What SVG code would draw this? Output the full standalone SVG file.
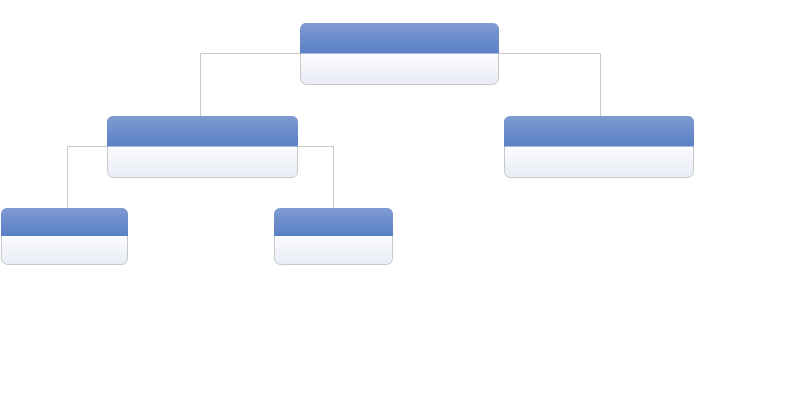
<svg xmlns="http://www.w3.org/2000/svg" width="800" height="400" viewBox="0 0 800 400">
<defs>
<linearGradient id="hd" x1="0" y1="0" x2="0" y2="1"><stop offset="0" stop-color="#7f9bd2"/><stop offset="1" stop-color="#5a7fc5"/></linearGradient>
<linearGradient id="bd" x1="0" y1="0" x2="0" y2="1"><stop offset="0.5" stop-color="#fafbfd"/><stop offset="1" stop-color="#e8ecf5"/></linearGradient>
<style>
.body{fill:url(#bd);stroke:#c8c8c8;stroke-width:1}
.head{fill:url(#hd)}
.con{fill:none;stroke:#c8c8c8;stroke-width:1}
</style>
</defs>
<g id="connectors">
<path class="con" d="M300.5 53.5H200.5V116"/>
<path class="con" d="M498.5 53.5H600.5V116"/>
<path class="con" d="M107.5 146.5H67.5V208"/>
<path class="con" d="M297.5 146.5H333.5V208"/>
</g>
<g id="n-root">
<rect class="body" x="300.5" y="23.5" width="198" height="61" rx="6"/>
<path class="head" d="M300 53.5V29.5a6 6 0 0 1 6-6.5H493a6 6 0 0 1 6 6.5V53.5Z"/>
</g>
<g id="n-left">
<rect class="body" x="107.5" y="116.5" width="190" height="61" rx="6"/>
<path class="head" d="M107 146.5V122.5a6 6 0 0 1 6-6.5H292a6 6 0 0 1 6 6.5V146.5Z"/>
</g>
<g id="n-right">
<rect class="body" x="504.5" y="116.5" width="189" height="61" rx="6"/>
<path class="head" d="M504 146.5V122.5a6 6 0 0 1 6-6.5H688a6 6 0 0 1 6 6.5V146.5Z"/>
</g>
<g id="n-ll">
<rect class="body" x="1.5" y="208.5" width="126" height="56" rx="6"/>
<path class="head" d="M1 236V214.5a6 6 0 0 1 6-6.5H122a6 6 0 0 1 6 6.5V236Z"/>
</g>
<g id="n-lr">
<rect class="body" x="274.5" y="208.5" width="118" height="56" rx="6"/>
<path class="head" d="M274 236V214.5a6 6 0 0 1 6-6.5H387a6 6 0 0 1 6 6.5V236Z"/>
</g>
</svg>
